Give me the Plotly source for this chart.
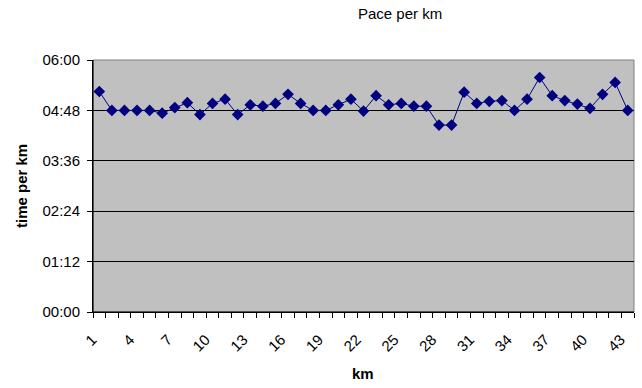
import plotly.graph_objects as go

km = list(range(1, 44))
pace_sec = [315, 288, 288, 288, 288, 284, 292, 299, 282, 298,
            304, 282, 296, 294, 298, 311, 298, 288, 288, 296,
            304, 287, 309, 296, 298, 294, 294, 267, 267, 314,
            298, 301, 302, 288, 304, 335, 309, 302, 297, 291,
            311, 328, 288]
y_tickvals = [0, 72, 144, 216, 288, 360]
y_ticktext = ["00:00", "01:12", "02:24", "03:36", "04:48", "06:00"]
x_tickvals = list(range(1, 44, 3))

NAVY = "#000080"
FONT = "Liberation Sans, Arial, sans-serif"

fig = go.Figure()
fig.add_trace(go.Scatter(
    x=km, y=pace_sec, mode="lines+markers",
    line=dict(color=NAVY, width=1),
    marker=dict(symbol="diamond", size=9, color=NAVY),
    hoverinfo="skip", showlegend=False,
))

fig.update_layout(
    width=642, height=388,
    margin=dict(l=93, r=8, t=60, b=76),
    paper_bgcolor="white", plot_bgcolor="#C0C0C0",
    font=dict(family=FONT, size=15, color="black"),
    annotations=[
        dict(text="Pace per km", x=400, y=14, showarrow=False,
             font=dict(size=15)),
        dict(text="<b>km</b>", x=363, y=373, showarrow=False,
             font=dict(size=15)),
        dict(text="<b>time per km</b>", x=21, y=186, showarrow=False,
             textangle=-90, font=dict(size=15)),
    ],
)
# convert pixel annotation positions to paper coords
pw, ph = 642 - 93 - 8, 388 - 60 - 76
for a in fig.layout.annotations:
    a.x = (a.x - 93) / pw
    a.y = (388 - 76 - a.y) / ph
    a.xref = "paper"
    a.yref = "paper"
    a.xanchor = "center"
    a.yanchor = "middle"

fig.update_xaxes(
    range=[0.5, 43.5], tickmode="array", tickvals=x_tickvals,
    ticktext=[str(v) for v in x_tickvals], tickangle=-45,
    ticks="", showgrid=False, zeroline=False,
    showline=True, linecolor="black", linewidth=1, mirror=False,
    tickfont=dict(size=15),
    ticklabelstandoff=12, ticklabelshift=-7,
    minor=dict(ticks="outside", tick0=0.5, dtick=1, ticklen=5,
               tickcolor="black", showgrid=False),
)
fig.update_yaxes(
    range=[0, 360], tickmode="array", tickvals=y_tickvals,
    ticktext=y_ticktext, ticks="outside", ticklen=5, tickcolor="black",
    showgrid=True, gridcolor="black", gridwidth=1, zeroline=False,
    showline=True, linecolor="black", linewidth=1,
    tickfont=dict(size=15), ticklabelstandoff=4,
)
# gray border top/right of plot area
fig.add_shape(type="rect", xref="paper", yref="paper", x0=0, y0=0, x1=1, y1=1,
              line=dict(color="#808080", width=1), layer="below")
fig.add_shape(type="line", xref="paper", yref="paper", x0=0, y0=0, x1=0, y1=1,
              line=dict(color="black", width=1))
fig.add_shape(type="line", xref="paper", yref="paper", x0=0, y0=0, x1=1, y1=0,
              line=dict(color="black", width=1))

fig.write_html("out.html", config={"displayModeBar": False},
               post_script="document.body.style.margin='0';document.body.style.overflow='hidden';")
